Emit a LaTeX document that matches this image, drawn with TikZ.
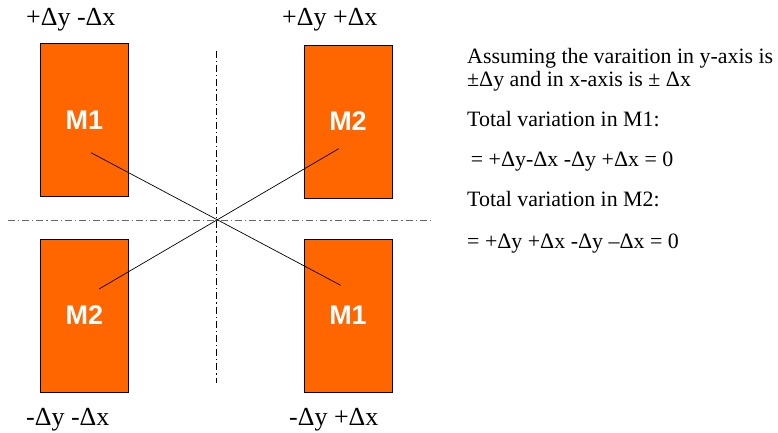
\documentclass[tikz,border=0pt]{standalone}
\usepackage{fontspec}
\setmainfont{Liberation Serif}
\setsansfont{Liberation Sans}
\usepackage{xcolor}
\usetikzlibrary{positioning}
\definecolor{devorange}{HTML}{FF6600}
\begin{document}
\begin{tikzpicture}[
  x=1pt, y=-1pt,
  dev/.style={draw=black, line width=0.9pt, fill=devorange, minimum width=88pt, minimum height=153pt, inner sep=0pt, text=white, font=\sffamily\bfseries\fontsize{27}{27}\selectfont},
  corner/.style={anchor=base west, inner sep=0pt, font=\fontsize{26}{26}\selectfont},
  note/.style={anchor=base west, inner sep=0pt, font=\fontsize{21.9}{24}\selectfont},
  axis/.style={line width=0.8pt, dash pattern=on 7pt off 3pt on 1.2pt off 3pt},
  link/.style={draw=black, line width=0.7pt}
]
\useasboundingbox (0,0) rectangle (778,432);

% Devices
\node[dev] (tl) at (84.5,120) {M1};
\node[dev] (tr) at (348,121.5) {M2};
\node[dev] (bl) at (84.5,315.5) {M2};
\node[dev] (br) at (348,315.5) {M1};

% Axes of symmetry
\coordinate (vtop) at (216.7,51);
\coordinate (vbot) at (216.7,383);
\coordinate (hleft) at (8,220.7);
\coordinate (hright) at (432,220.7);
\draw[axis, black] (vtop) -- (vbot);
\draw[axis, black!60] (hleft) -- (hright);

% Cross connections
\coordinate (m1a) at (91,152.7);
\coordinate (m1b) at (340.7,285.3);
\coordinate (m2a) at (338.7,148.7);
\coordinate (m2b) at (99,289);
\draw[link] (m1a) -- (m1b);
\draw[link] (m2a) -- (m2b);

% Quadrant labels
\node[corner] (qtl) at (26,25.7) {+Δy -Δx};
\node[corner] (qtr) at (282,25.7) {+Δy +Δx};
\node[corner] (qbl) at (26,425) {-Δy -Δx};
\node[corner] (qbr) at (289,425) {-Δy +Δx};

% Explanation
\node[note] (n1) at (467,63) {Assuming the varaition in y-axis is};
\node[note] (n2) at (467,86.7) {±Δy and in x-axis is ± Δx};
\node[note] (n3) at (467,126.7) {Total variation in M1:};
\node[note] (n4) at (467,166.7) {\,= +Δy-Δx -Δy +Δx = 0};
\node[note] (n5) at (467,206.7) {Total variation in M2:};
\node[note] (n6) at (467,248) {= +Δy +Δx -Δy –Δx = 0};
\end{tikzpicture}
\end{document}
